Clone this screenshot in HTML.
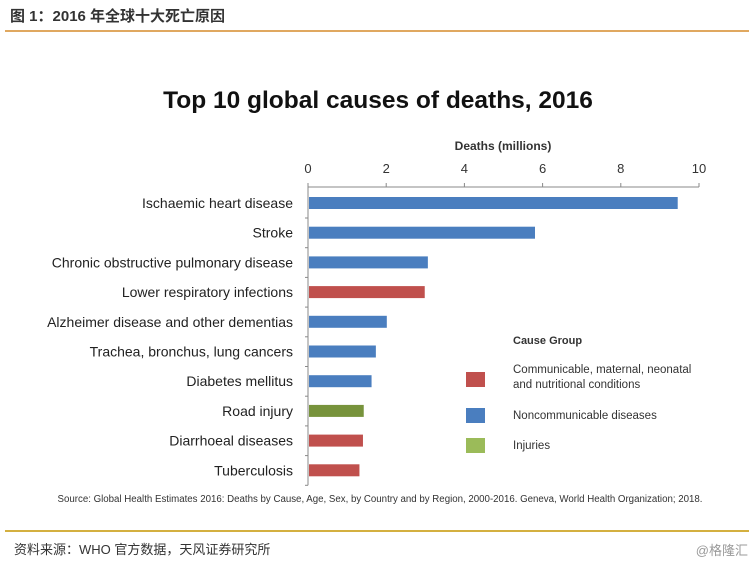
<!DOCTYPE html>
<html><head><meta charset="utf-8"><style>
body{margin:0;background:#fff;width:756px;height:563px;overflow:hidden;position:relative;font-family:"Liberation Sans","Noto Sans CJK SC",sans-serif}
.hd{position:absolute;left:10px;top:5px;font-size:15px;font-weight:bold;color:#333}
.l1{position:absolute;left:5px;top:30px;width:744px;height:2px;background:#e0a860;z-index:5}
.l2{position:absolute;left:5px;top:530px;width:744px;height:2px;background:#d4b040;z-index:5}
.src{position:absolute;left:14px;top:539px;font-size:13px;color:#333}
.wm{position:absolute;right:8px;top:540px;font-size:13px;color:#999}
</style></head><body>
<div class="hd">图 1：2016 年全球十大死亡原因</div>
<svg id="c" width="756" height="563" style="position:absolute;left:0;top:0"></svg>
<div class="l1"></div>
<div class="l2"></div>
<div class="src">资料来源：WHO 官方数据，天风证券研究所</div>
<div class="wm">@格隆汇</div>
<script>
const categories=["Ischaemic heart disease","Stroke","Chronic obstructive pulmonary disease","Lower respiratory infections","Alzheimer disease and other dementias","Trachea, bronchus, lung cancers","Diabetes mellitus","Road injury","Diarrhoeal diseases","Tuberculosis"];
const values=[9.43,5.78,3.04,2.96,1.99,1.71,1.6,1.4,1.38,1.29];
const groups=["N","N","N","C","N","N","N","I","C","C"];
const ticks=[0,2,4,6,8,10];
const colors={C:"#c0504d",N:"#4a7ebf",I:"#77933c"};
const NS="http://www.w3.org/2000/svg",svg=document.getElementById("c");
const x=v=>308+v*39.1, y=i=>203+i*29.7;
function el(t,a,txt){const e=document.createElementNS(NS,t);for(const k in a)e.setAttribute(k,a[k]);if(txt!=null)e.textContent=txt;svg.appendChild(e);return e;}
let e;
e=el("text",{x:378,y:108,"text-anchor":"middle","font-size":24.5,"font-weight":"bold",fill:"#111"},"Top 10 global causes of deaths, 2016");

e=el("text",{x:503,y:150,"text-anchor":"middle","font-size":12,"font-weight":"bold",fill:"#333"},"Deaths (millions)");

e=el("line",{x1:x(0),x2:x(10),y1:187,y2:187,stroke:"#888"});

e=el("line",{x1:x(0),x2:x(0),y1:187,y2:y(9)+15,stroke:"#888"});

ticks.forEach(t=>{
 e=el("line",{x1:x(t),x2:x(t),y1:183,y2:187,stroke:"#888"});
 
 e=el("text",{x:x(t),y:173,"text-anchor":"middle","font-size":13,fill:"#333"},String(t));
 
});
categories.forEach((c,i)=>{
 e=el("rect",{x:x(0)+1,y:y(i)-6,width:x(values[i])-x(0),height:12,fill:colors[groups[i]]});
 
 e=el("text",{x:293,y:y(i)+5,"text-anchor":"end","font-size":14,fill:"#222"},c);
 
 e=el("line",{x1:x(0)-3,x2:x(0),y1:y(i)+15,y2:y(i)+15,stroke:"#888"});
 
});
e=el("text",{x:513,y:344,"font-size":11,"font-weight":"bold",fill:"#333"},"Cause Group");

const leg=[["#c0504d",372,["Communicable, maternal, neonatal","and nutritional conditions"]],["#4a7ebf",408,["Noncommunicable diseases"]],["#9bbb59",438,["Injuries"]]];
leg.forEach(l=>{
 e=el("rect",{x:466,y:l[1],width:19,height:15,fill:l[0]});
 
 l[2].forEach((t,j)=>{
  e=el("text",{x:513,y:(l[2].length>1?l[1]+1:l[1]+11)+j*15,"font-size":11.5,fill:"#333"},t);
  
 });
});
e=el("text",{x:380,y:502,"text-anchor":"middle","font-size":9.7,fill:"#333"},"Source: Global Health Estimates 2016: Deaths by Cause, Age, Sex, by Country and by Region, 2000-2016. Geneva, World Health Organization; 2018.");

</script>
</body></html>
